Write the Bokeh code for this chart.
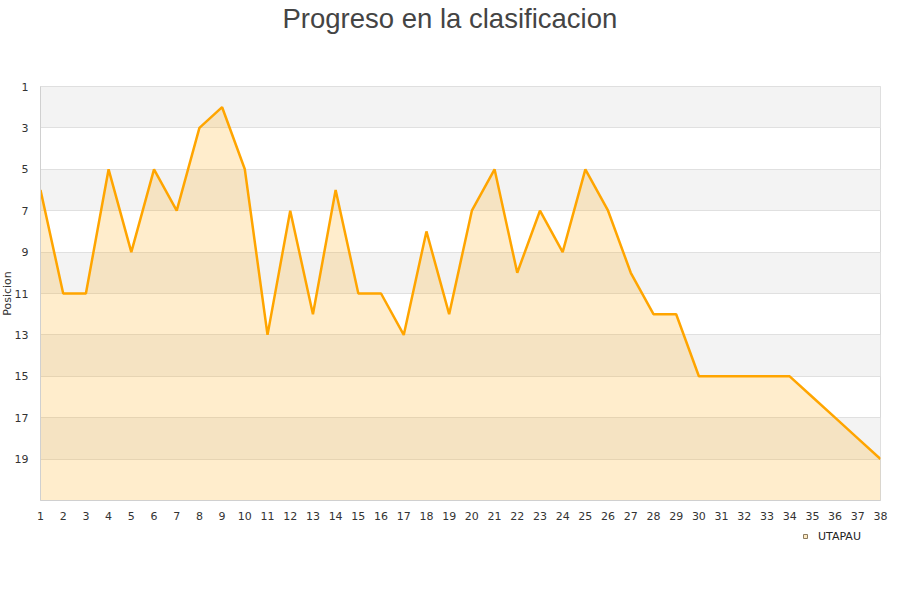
from bokeh.plotting import figure
from bokeh.layouts import column
from bokeh.models import (Range1d, FixedTicker, BoxAnnotation, Legend, LegendItem,
                          ColumnDataSource, Title)
from bokeh.embed import file_html
from bokeh.resources import INLINE

jornadas = list(range(1, 39))
posiciones = [6, 11, 11, 5, 9, 5, 7, 3, 2, 5, 13, 7, 12, 6, 11, 11, 13, 8, 12, 7,
              5, 10, 7, 9, 5, 7, 10, 12, 12, 15, 15, 15, 15, 15, 16, 17, 18, 19]
y_ticks = [1, 3, 5, 7, 9, 11, 13, 15, 17, 19]
y_min, y_max = 1, 21
team = "UTAPAU"
title_text = "Progreso en la clasificacion"
y_label = "Posicion"

p = figure(frame_width=840, frame_height=414, output_backend="svg", toolbar_location=None,
           x_range=Range1d(1, 38), y_range=Range1d(y_max, y_min), title=title_text,
           min_border_left=40, min_border_right=12, min_border_top=0, min_border_bottom=26)
p.title.align = "left"
p.title.offset = 242
p.title.text_font_size = "27.5px"
p.title.text_font = "Liberation Sans"
p.title.text_font_style = "normal"
p.title.text_color = "#444444"
p.title.standoff = 0
p.add_layout(Title(text=" ", text_font_size="10px", standoff=40), "above")

p.add_layout(Title(text=y_label, align="center", text_font_size="11px", text_font="DejaVu Sans",
                   text_font_style="normal", text_color="#333333", standoff=-4,
                   text_line_height=1.0), "left")

# alternating bands
edges = y_ticks + [y_max]
for i in range(len(edges) - 1):
    if i % 2 == 0:
        p.add_layout(BoxAnnotation(bottom=edges[i], top=edges[i + 1], fill_color="#f3f3f3",
                                   fill_alpha=1, line_color=None, level="image"))

src = ColumnDataSource(dict(x=jornadas, y=posiciones, base=[y_max] * len(jornadas)))
p.varea(x="x", y1="y", y2="base", source=src, fill_color="#ffa500", fill_alpha=0.2)
p.line(x="x", y="y", source=src, line_color="#ffa500", line_width=2.5)

p.xaxis.ticker = FixedTicker(ticks=jornadas)
p.yaxis.ticker = FixedTicker(ticks=y_ticks)
p.xgrid.visible = False
p.ygrid.grid_line_color = "#e0e0e0"
p.ygrid.grid_line_alpha = 1

for ax in (p.xaxis, p.yaxis):
    ax.axis_line_color = "#d0d0d0"
    ax.major_tick_line_color = None
    ax.minor_tick_line_color = None
    ax.major_label_text_color = "#333333"
    ax.major_label_text_font = "DejaVu Sans"
    ax.major_label_text_font_size = "11px"
p.xaxis.major_label_standoff = 5
p.yaxis.major_label_standoff = 6
p.outline_line_color = "#d9d9d9"

# legend strip below the chart (its frame is aligned with the chart frame)
lg = figure(width=892, height=40, output_backend="svg", toolbar_location=None,
            x_range=Range1d(0, 1), y_range=Range1d(0, 1),
            x_axis_type=None, y_axis_type=None,
            min_border_left=0, min_border_right=0, min_border_top=0, min_border_bottom=0)
lg.grid.visible = False
lg.outline_line_color = None
dummy = lg.scatter(x=[float("nan")], y=[float("nan")], marker="square", size=8,
                   fill_color="#fde9c3", line_color="#8c7c60")
legend = Legend(items=[LegendItem(label=team, renderers=[dummy])], location=(760, 20),
                orientation="horizontal",
                background_fill_alpha=0, border_line_color=None, glyph_width=10, glyph_height=10,
                label_text_font_size="11px", label_text_font="DejaVu Sans", label_text_color="#222222",
                padding=0, margin=0, label_standoff=8, label_height=20)
lg.add_layout(legend)

layout = column(p, lg, spacing=0)
open("out.html", "w").write(file_html(layout, INLINE))
